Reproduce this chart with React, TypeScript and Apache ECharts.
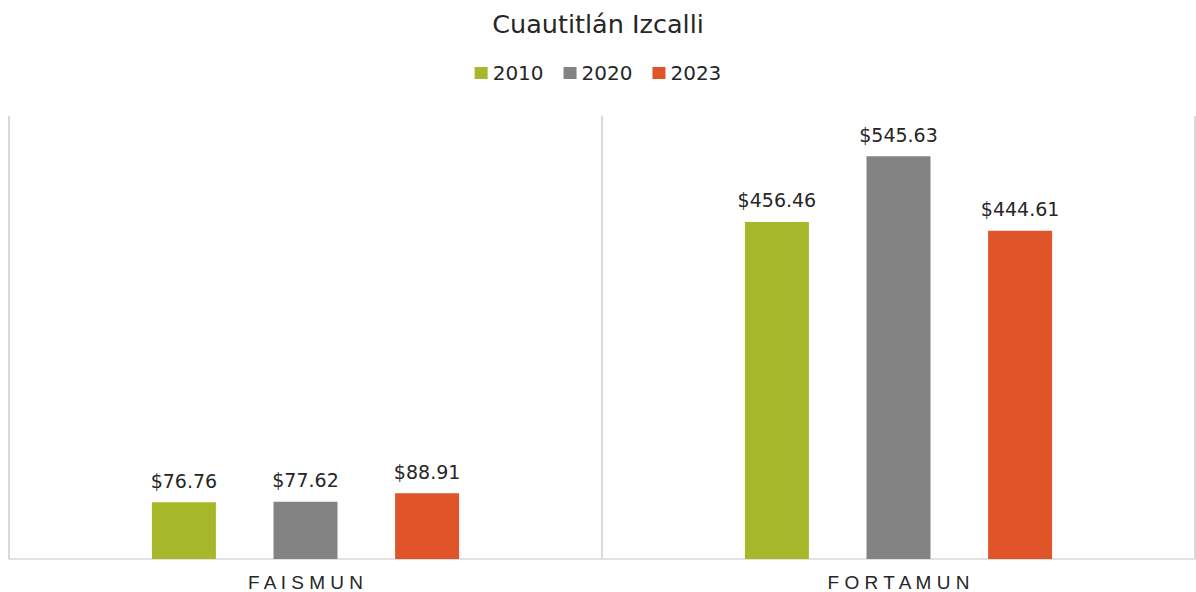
import React, { useEffect, useRef } from "react";
import * as echarts from "echarts";

const categories = ["FAISMUN", "FORTAMUN"];
const categoryLabels = ["F A I S M U N", "F O R T A M U N"];
const seriesNames = ["2010", "2020", "2023"];
const values2010 = [76.76, 456.46];
const values2020 = [77.62, 545.63];
const values2023 = [88.91, 444.61];
const colors = ["#A7B72A", "#838383", "#E0542A"];

export default function App() {
  const ref = useRef<HTMLDivElement>(null);
  useEffect(() => {
    const chart = echarts.init(ref.current!, undefined, { renderer: "svg" });
    const font = "'Liberation Sans', Arial, sans-serif";
    const wide = "'DejaVu Sans', sans-serif";
    const data = [values2010, values2020, values2023];
    chart.setOption({
      animation: false,
      textStyle: { fontFamily: font },
      title: {
        text: "Cuautitlán Izcalli",
        left: "center",
        top: 6,
        textStyle: { fontFamily: wide, fontSize: 25.5, fontWeight: "normal", color: "#262626" },
      },
      legend: {
        top: 58,
        left: "center",
        itemWidth: 13,
        itemHeight: 12,
        itemGap: 20,
        icon: "rect",
        textStyle: { fontFamily: wide, fontSize: 20, color: "#262626" },
        data: seriesNames,
      },
      grid: { left: 9, right: 1, top: 116, bottom: 30, containLabel: false },
      xAxis: {
        type: "category",
        data: categories,
        axisLine: { show: true, lineStyle: { color: "#d9d9d9", width: 1.5 } },
        axisTick: { show: false },
        splitLine: { show: true, lineStyle: { color: "#d9d9d9", width: 2 } },
        axisLabel: {
          margin: 14,
          fontSize: 19,
          color: "#262626",
          fontFamily: font,
          formatter: (v: string) => categoryLabels[categories.indexOf(v)],
        },
      },
      yAxis: {
        type: "value",
        min: 0,
        max: 600,
        show: false,
        splitLine: { show: false },
      },
      series: seriesNames.map((name, i) => ({
        name,
        type: "bar",
        data: data[i],
        barWidth: 64,
        barGap: "90%",
        itemStyle: { color: colors[i] },
        label: {
          show: true,
          position: "top",
          distance: 12,
          fontSize: 19,
          color: "#262626",
          fontFamily: wide,
          formatter: (p: any) => "$" + p.value.toFixed(2),
        },
      })),
    });
    return () => chart.dispose();
  }, []);
  return (
    <div
      ref={ref}
      style={{ position: "fixed", left: 0, top: 0, width: 1196, height: 592, background: "#fff" }}
    />
  );
}
